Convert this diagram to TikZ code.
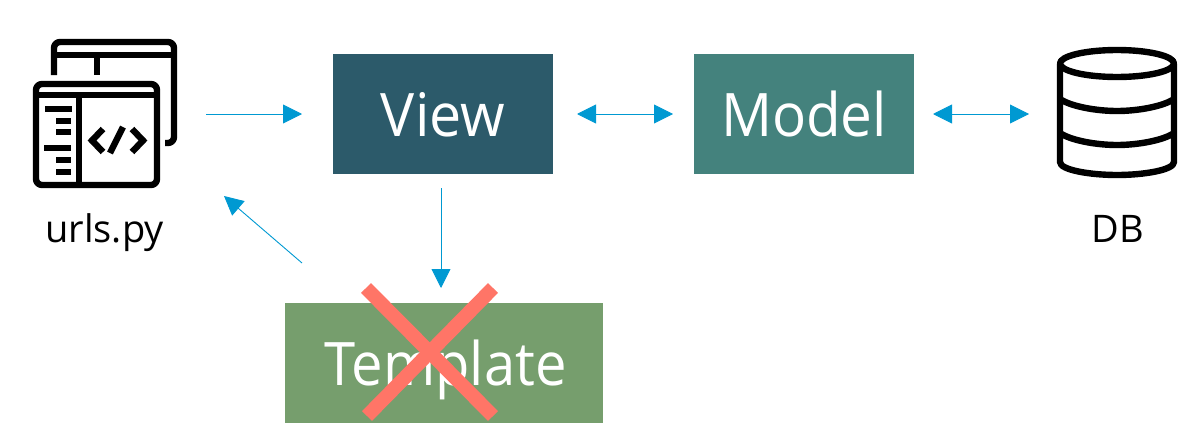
\documentclass[tikz,border=0pt]{standalone}
\usepackage{fontspec}
\setmainfont{Open Sans}
\newfontfamily\boxfont[FakeStretch=0.955]{Open Sans}
\newfontfamily\modelfont[FakeStretch=0.943]{Open Sans}
\newfontfamily\tmplfont[FakeStretch=0.936]{Open Sans}
\usetikzlibrary{arrows.meta}
\definecolor{viewc}{HTML}{2C5A6A}
\definecolor{modelc}{HTML}{44827D}
\definecolor{tmplc}{HTML}{769E6D}
\definecolor{crossc}{HTML}{FF7567}
\definecolor{arrowc}{HTML}{0099D2}
\tikzset{
  boxn/.style={fill=#1,text=white,inner sep=0pt,font=\fontsize{60}{64}\selectfont,text height=82pt,text depth=37.5pt,anchor=center},
  conn/.style={draw=arrowc,line width=0.9pt,-{Triangle[length=19pt,width=19pt,fill=arrowc]}},
  dconn/.style={draw=arrowc,line width=0.9pt,{Triangle[length=19pt,width=19pt,fill=arrowc]}-{Triangle[length=19pt,width=19pt,fill=arrowc]}},
  icon/.style={line width=6.4pt,draw=black,line cap=butt,line join=round},
  capt/.style={font=\fontsize{38}{42}\selectfont,text=black,inner sep=0pt,text height=30pt,text depth=10pt},
  crossl/.style={draw=crossc,line width=14pt}
}
\begin{document}
\begin{tikzpicture}[x=1pt,y=-1pt]
\useasboundingbox (0,0) rectangle (1203,447);
% boxes
\node[boxn=viewc,minimum width=220pt] (view) at (443,113.75) {\boxfont View};
\node[boxn=modelc,minimum width=220pt] (model) at (804,113.75) {\modelfont Model};
\node[boxn=tmplc,minimum width=318pt] (tmpl) at (444,363) {\tmplfont\hspace*{3pt}Template};
% captions
\node[capt] (urls) at (104.5,232) {urls.py};
\node[capt] (db) at (1118,232) {DB};
% connector ends
\coordinate (a1) at (206,114);
\coordinate (a2) at (302,114);
\coordinate (b1) at (577,114);
\coordinate (b2) at (673,114);
\coordinate (c1) at (933,114);
\coordinate (c2) at (1029,114);
\coordinate (d1) at (441,188);
\coordinate (d2) at (441,288);
\coordinate (e1) at (302,263);
\coordinate (e2) at (224,196);
\draw[conn] (a1) -- (a2);
\draw[dconn] (b1) -- (b2);
\draw[dconn] (c1) -- (c2);
\draw[conn] (d1) -- (d2);
\draw[conn] (e1) -- (e2);
% cross
\draw[crossl] (366,288) -- (493,416);
\draw[crossl] (493,288) -- (367,416);
% urls icon, back window
\draw[icon] (54,75) -- (54,48) arc[start angle=180,end angle=270,radius=6] -- (168,42) arc[start angle=270,end angle=360,radius=6] -- (174,137) arc[start angle=0,end angle=90,radius=6] -- (165,143);
\draw[icon] (54,55) -- (174,55);
\draw[icon] (97,55) -- (97,75);
% front window
\draw[icon] (36,90) arc[start angle=180,end angle=270,radius=6] -- (151,84) arc[start angle=270,end angle=360,radius=6] -- (157,179) arc[start angle=0,end angle=90,radius=6] -- (42,185) arc[start angle=90,end angle=180,radius=6] -- cycle;
\draw[icon] (36,95) -- (157,95);
\draw[icon] (79,95) -- (79,185);
\draw[icon] (45,109) -- (72,109);
\draw[icon] (56,121) -- (71,121);
\draw[icon] (56,132) -- (71,132);
\draw[icon] (44,148) -- (71,148);
\draw[icon] (56,160) -- (71,160);
\draw[icon] (56,172) -- (71,172);
\draw[icon,line join=miter] (103,129) -- (92,140.5) -- (103,152);
\draw[icon,line join=miter] (132,129) -- (143,140.5) -- (132,152);
\draw[icon] (110,153) -- (123,127);
% DB icon
\draw[icon] (1117,63.5) ellipse[x radius=57,y radius=13.5];
\draw[icon] (1060,63.5) -- (1060,162) .. controls (1060,170) and (1090,175) .. (1117,175) .. controls (1144,175) and (1174,170) .. (1174,162) -- (1174,63.5);
\draw[icon] (1060,99) .. controls (1070,106) and (1095,111) .. (1117,111) .. controls (1139,111) and (1164,106) .. (1174,99);
\draw[icon] (1060,133) .. controls (1070,140) and (1095,145) .. (1117,145) .. controls (1139,145) and (1164,140) .. (1174,133);
\end{tikzpicture}
\end{document}
